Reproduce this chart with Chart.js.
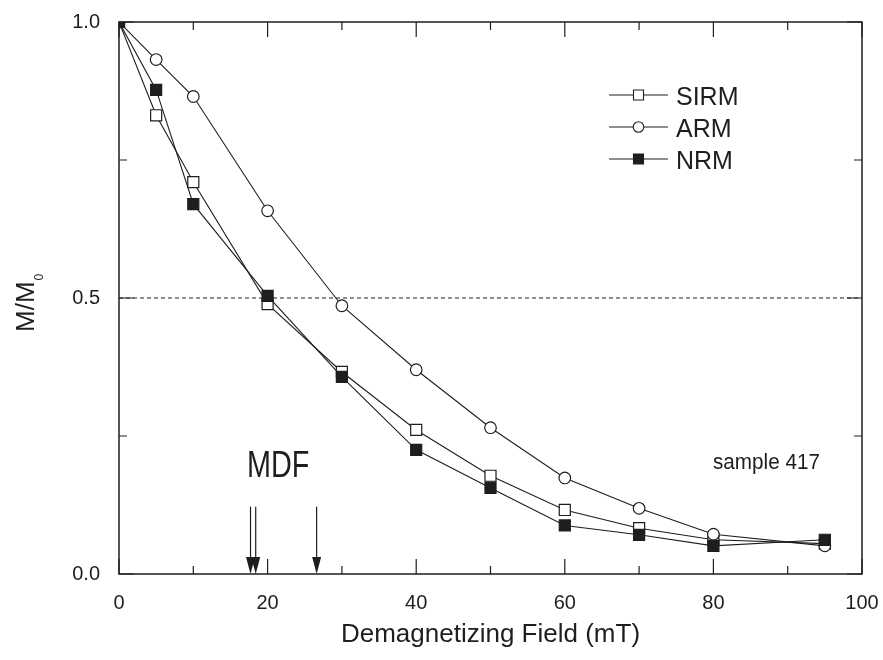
<!DOCTYPE html>
<html>
<head>
<meta charset="utf-8">
<script src="https://cdn.jsdelivr.net/npm/chart.js@4.4.1/dist/chart.umd.min.js"></script>
<style>
  html, body { margin: 0; padding: 0; background: #fff; }
  #wrap { width: 883px; height: 660px; }
</style>
</head>
<body>
<div id="wrap"><canvas id="Graph_Demag" width="883" height="660"></canvas></div>
<script>
// demagnetizing steps (mT)
var fieldSteps = [0, 5, 10, 20, 30, 40, 50, 60, 70, 80, 95];
// normalised remanence M/M0
var sirmValues = [1.0, 0.831, 0.710, 0.489, 0.366, 0.261, 0.178, 0.116, 0.083, 0.062, 0.055];
var armValues = [1.0, 0.932, 0.865, 0.658, 0.486, 0.370, 0.265, 0.174, 0.119, 0.072, 0.051];
var nrmValues = [1.0, 0.877, 0.670, 0.504, 0.357, 0.225, 0.156, 0.088, 0.071, 0.051, 0.062];
// median destructive fields marked by arrows
var mdfValues = [17.7, 18.4, 26.6];
var mdfArrowTop = 0.122;
var halfLevel = 0.5;
var xTickLabels = [0, 20, 40, 60, 80, 100];
var yTickLabels = [0, 0.5, 1];

var ink = "#1e1e1e";
var fontName = "'Liberation Sans', Arial, Helvetica, sans-serif";

function toPoints(vals) {
    return fieldSteps.map(function (x, i) { return { x: x, y: vals[i] }; });
}

// frame, inward ticks, arrows, labels and legend
var decorPlugin = {
    id: "decor",
    afterDatasetsDraw: function (chart) {
        var ctx = chart.ctx;
        var a = chart.chartArea;
        var xs = chart.scales.x;
        var ys = chart.scales.y;
        ctx.save();
        ctx.strokeStyle = ink;
        ctx.lineWidth = 1.5;
        ctx.strokeRect(a.left, a.top, a.right - a.left, a.bottom - a.top);

        ctx.lineWidth = 1.2;
        ctx.beginPath();
        for (var v = 0; v <= 100; v += 10) {
            var px = xs.getPixelForValue(v);
            var len = (v % 20 === 0) ? 15 : 8;
            ctx.moveTo(px, a.bottom); ctx.lineTo(px, a.bottom - len);
            ctx.moveTo(px, a.top); ctx.lineTo(px, a.top + len);
        }
        for (var w = 0; w <= 1.0001; w += 0.25) {
            var py = ys.getPixelForValue(w);
            var ylen = (Math.abs(w * 2 - Math.round(w * 2)) < 0.01) ? 15 : 8;
            ctx.moveTo(a.left, py); ctx.lineTo(a.left + ylen, py);
            ctx.moveTo(a.right, py); ctx.lineTo(a.right - ylen, py);
        }
        ctx.stroke();

        // MDF arrows
        ctx.fillStyle = ink;
        ctx.lineWidth = 1.2;
        mdfValues.forEach(function (m) {
            var x = xs.getPixelForValue(m);
            var y0 = ys.getPixelForValue(mdfArrowTop);
            var y1 = ys.getPixelForValue(0);
            ctx.beginPath();
            ctx.moveTo(x, y0); ctx.lineTo(x, y1 - 10);
            ctx.stroke();
            ctx.beginPath();
            ctx.moveTo(x - 4.5, y1 - 17);
            ctx.lineTo(x + 4.5, y1 - 17);
            ctx.lineTo(x, y1);
            ctx.closePath();
            ctx.fill();
        });

        // condensed annotations
        ctx.textBaseline = "alphabetic";
        ctx.textAlign = "left";
        ctx.save();
        ctx.translate(247, 477);
        ctx.scale(0.8, 1);
        ctx.font = "36px " + fontName;
        ctx.fillText("MDF", 0, 0);
        ctx.restore();
        ctx.save();
        ctx.translate(713, 469);
        ctx.scale(0.94, 1);
        ctx.font = "22px " + fontName;
        ctx.fillText("sample 417", 0, 0);
        ctx.restore();

        // y title M/M0
        ctx.save();
        ctx.translate(34, 332);
        ctx.rotate(-Math.PI / 2);
        ctx.font = "26px " + fontName;
        ctx.fillText("M/M", 0, 0);
        var mw = ctx.measureText("M/M").width;
        ctx.font = "12px " + fontName;
        ctx.fillText("0", mw + 1, 9);
        ctx.restore();

        // legend
        var rows = [
            { label: "SIRM", shape: "rect", fill: "#fff", y: 95 },
            { label: "ARM", shape: "circle", fill: "#fff", y: 127 },
            { label: "NRM", shape: "rect", fill: ink, y: 159 }
        ];
        ctx.font = "25px " + fontName;
        rows.forEach(function (r) {
            ctx.lineWidth = 1.1;
            ctx.beginPath();
            ctx.moveTo(609, r.y); ctx.lineTo(633, r.y);
            ctx.moveTo(644, r.y); ctx.lineTo(668, r.y);
            ctx.stroke();
            ctx.beginPath();
            if (r.shape === "circle") {
                ctx.arc(638.5, r.y, 5.3, 0, Math.PI * 2);
            } else {
                ctx.rect(633.5, r.y - 5, 10, 10);
            }
            ctx.fillStyle = r.fill;
            ctx.fill();
            ctx.stroke();
            ctx.fillStyle = ink;
            ctx.fillText(r.label, 676, r.y + 10);
        });
        ctx.restore();
    }
};

var ctx = document.getElementById("Graph_Demag").getContext("2d");
var graph = new Chart(ctx, {
    type: "line",
    data: {
        datasets: [
            {
                label: "NRM",
                data: toPoints(nrmValues),
                borderColor: ink,
                borderWidth: 1.1,
                pointStyle: "rect",
                pointRadius: 7.8,
                pointBackgroundColor: ink,
                pointBorderColor: ink,
                pointBorderWidth: 1.2,
                tension: 0,
                clip: 0,
                order: 0
            },
            {
                label: "ARM",
                data: toPoints(armValues),
                borderColor: ink,
                borderWidth: 1.1,
                pointStyle: "circle",
                pointRadius: 5.8,
                pointBackgroundColor: "#fff",
                pointBorderColor: ink,
                pointBorderWidth: 1.2,
                tension: 0,
                clip: 0,
                order: 1
            },
            {
                label: "SIRM",
                data: toPoints(sirmValues),
                borderColor: ink,
                borderWidth: 1.1,
                pointStyle: "rect",
                pointRadius: 7.8,
                pointBackgroundColor: "#fff",
                pointBorderColor: ink,
                pointBorderWidth: 1.2,
                tension: 0,
                clip: 0,
                order: 2
            },
            {
                label: "half",
                data: [{ x: 0, y: halfLevel }, { x: 100, y: halfLevel }],
                borderColor: ink,
                borderWidth: 1,
                borderDash: [4, 3],
                pointRadius: 0,
                order: 3
            }
        ]
    },
    options: {
        responsive: false,
        animation: false,
        layout: { padding: { left: 0, right: 21, top: 22, bottom: 10 } },
        plugins: {
            legend: { display: false },
            tooltip: { enabled: false }
        },
        scales: {
            x: {
                type: "linear",
                min: 0,
                max: 100,
                grid: { display: false, drawTicks: false },
                border: { display: false },
                ticks: {
                    stepSize: 10,
                    padding: 17,
                    maxRotation: 0,
                    autoSkip: false,
                    color: ink,
                    font: { family: fontName, size: 20 },
                    callback: function (v) { return xTickLabels.indexOf(v) >= 0 ? String(v) : ""; }
                },
                title: {
                    display: true,
                    text: "Demagnetizing Field (mT)",
                    color: ink,
                    font: { family: fontName, size: 26 },
                    padding: 0
                },
                afterFit: function (scale) {
                    scale.height = 76;
                    scale.paddingLeft = 0;
                    scale.paddingRight = 0;
                }
            },
            y: {
                type: "linear",
                min: 0,
                max: 1,
                grid: { display: false, drawTicks: false },
                border: { display: false },
                ticks: {
                    stepSize: 0.25,
                    padding: 19,
                    autoSkip: false,
                    color: ink,
                    font: { family: fontName, size: 20 },
                    callback: function (v) {
                        for (var i = 0; i < yTickLabels.length; i++) {
                            if (Math.abs(v - yTickLabels[i]) < 1e-6) return v.toFixed(1);
                        }
                        return "";
                    }
                },
                afterFit: function (scale) {
                    scale.width = 119;
                    scale.paddingTop = 0;
                    scale.paddingBottom = 0;
                }
            }
        }
    },
    plugins: [decorPlugin]
});
</script>
</body>
</html>
